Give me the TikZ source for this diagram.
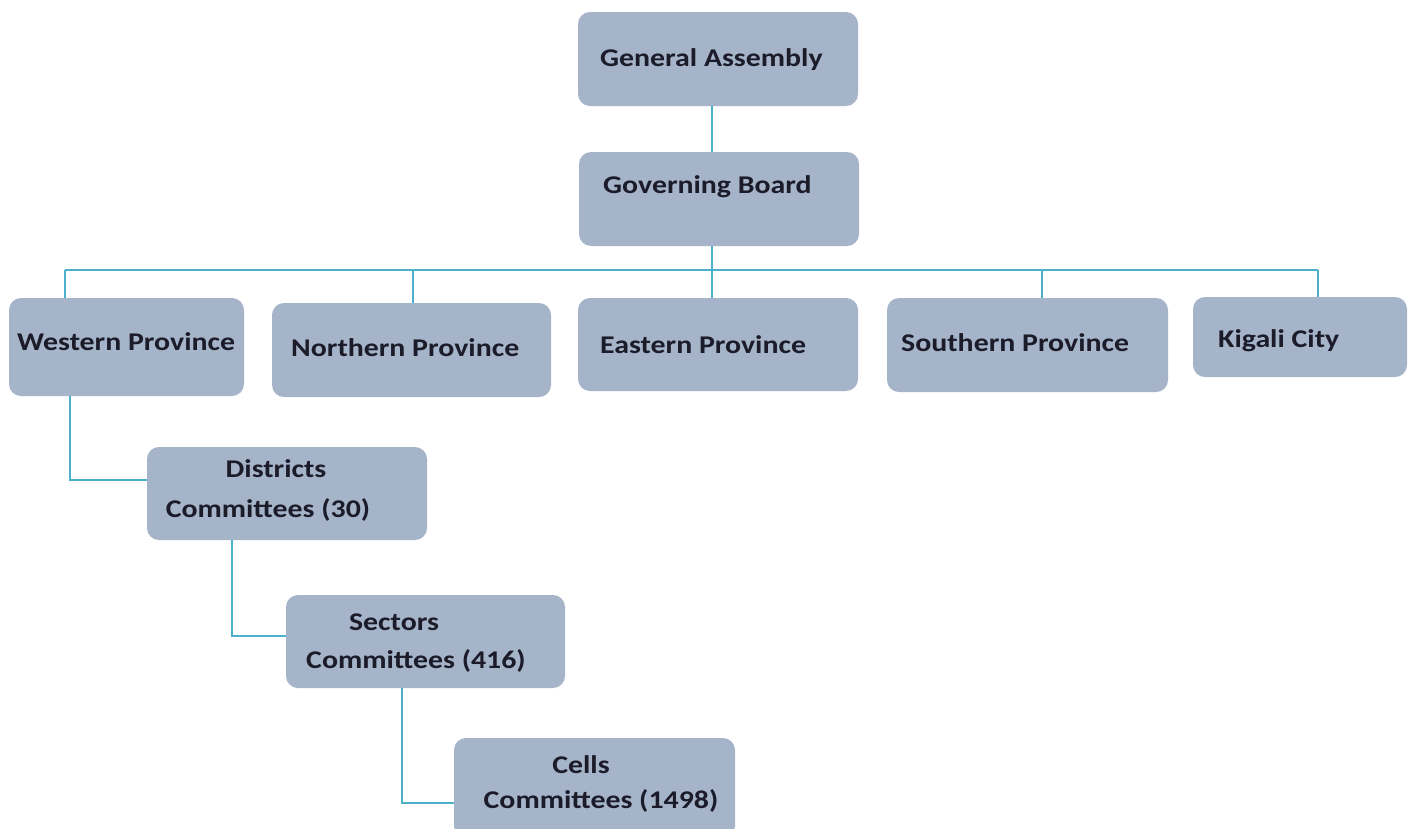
\documentclass[tikz,border=0pt]{standalone}
\usepackage{fontspec}
\newfontfamily\lblfont{Carlito}[FakeStretch=1.17]
\definecolor{boxfill}{HTML}{A5B4C9}
\definecolor{linec}{HTML}{4BB0CC}
\definecolor{txt}{HTML}{1B1B2A}
\tikzset{
  box/.style={draw=none, fill=boxfill, rounded corners=12pt, inner sep=0pt},
  lbl/.style={font=\lblfont\bfseries\fontsize{25.5}{30}\selectfont, text=txt, inner sep=0pt},
  link/.style={draw=linec, line width=2pt}
}
\begin{document}
\begin{tikzpicture}[x=1pt,y=-1pt]
\useasboundingbox[fill=white] (0,0) rectangle (1413,828);
\begin{scope}
\clip (0,0) rectangle (1413,828);
% boxes
\node[box, minimum width=280, minimum height=94] (ga) at (718,59) {};
\node[box, minimum width=280, minimum height=94] (gb) at (719,199) {};
\node[box, minimum width=235, minimum height=98] (wp) at (126.5,347) {};
\node[box, minimum width=279, minimum height=94] (np) at (411.5,350) {};
\node[box, minimum width=280, minimum height=93] (ep) at (718,344.5) {};
\node[box, minimum width=281, minimum height=94] (sp) at (1027.5,345) {};
\node[box, minimum width=214, minimum height=80] (kc) at (1300,337) {};
\node[box, minimum width=280, minimum height=93] (dc) at (287,493.5) {};
\node[box, minimum width=279, minimum height=93] (sc) at (425.5,641.5) {};
\node[box, minimum width=281, minimum height=100] (cc) at (594.5,788) {};
% labels
\node[lbl, anchor=base west] (tga) at (600,66) {General Assembly};
\node[lbl, anchor=base west] (tgb) at (603,193) {Governing Board};
\node[lbl, anchor=base west] (twp) at (17,350) {Western Province};
\node[lbl, anchor=base west] (tnp) at (291,356) {Northern Province};
\node[lbl, anchor=base west] (tep) at (600,353) {Eastern Province};
\node[lbl, anchor=base west] (tsp) at (901,351) {Southern Province};
\node[lbl, anchor=base west] (tkc) at (1218,347) {Kigali City};
\node[lbl, anchor=base] (tdc1) at (276,477) {Districts};
\node[lbl, anchor=base] (tdc2) at (268,517) {Committees (30)};
\node[lbl, anchor=base] (tsc1) at (394,630) {Sectors};
\node[lbl, anchor=base] (tsc2) at (416,668) {Committees (416)};
\node[lbl, anchor=base] (tcc1) at (581,773) {Cells};
\node[lbl, anchor=base] (tcc2) at (601,808) {Committees (1498)};
% junctions
\coordinate (j1) at (65,270);
\coordinate (j2) at (413,270);
\coordinate (jg) at (712,270);
\coordinate (j4) at (1042,270);
\coordinate (j5) at (1318,270);
\coordinate (x1) at (70,0);
\coordinate (x2) at (232,0);
\coordinate (x3) at (402,0);
% connectors
\draw[link] (jg |- ga.south) -- (jg |- gb.north);
\draw[link] (jg |- gb.south) -- (jg);
\draw[link] (j1) -- (j5);
\draw[link] (j1) -- (j1 |- wp.north);
\draw[link] (j2) -- (j2 |- np.north);
\draw[link] (jg) -- (jg |- ep.north);
\draw[link] (j4) -- (j4 |- sp.north);
\draw[link] (j5) -- (j5 |- kc.north);
\draw[link] (x1 |- wp.south) |- ([yshift=13.5pt]dc.west);
\draw[link] (x2 |- dc.south) |- ([yshift=5.5pt]sc.west);
\draw[link] (x3 |- sc.south) |- ([yshift=-15pt]cc.west);
\end{scope}
\end{tikzpicture}
\end{document}
